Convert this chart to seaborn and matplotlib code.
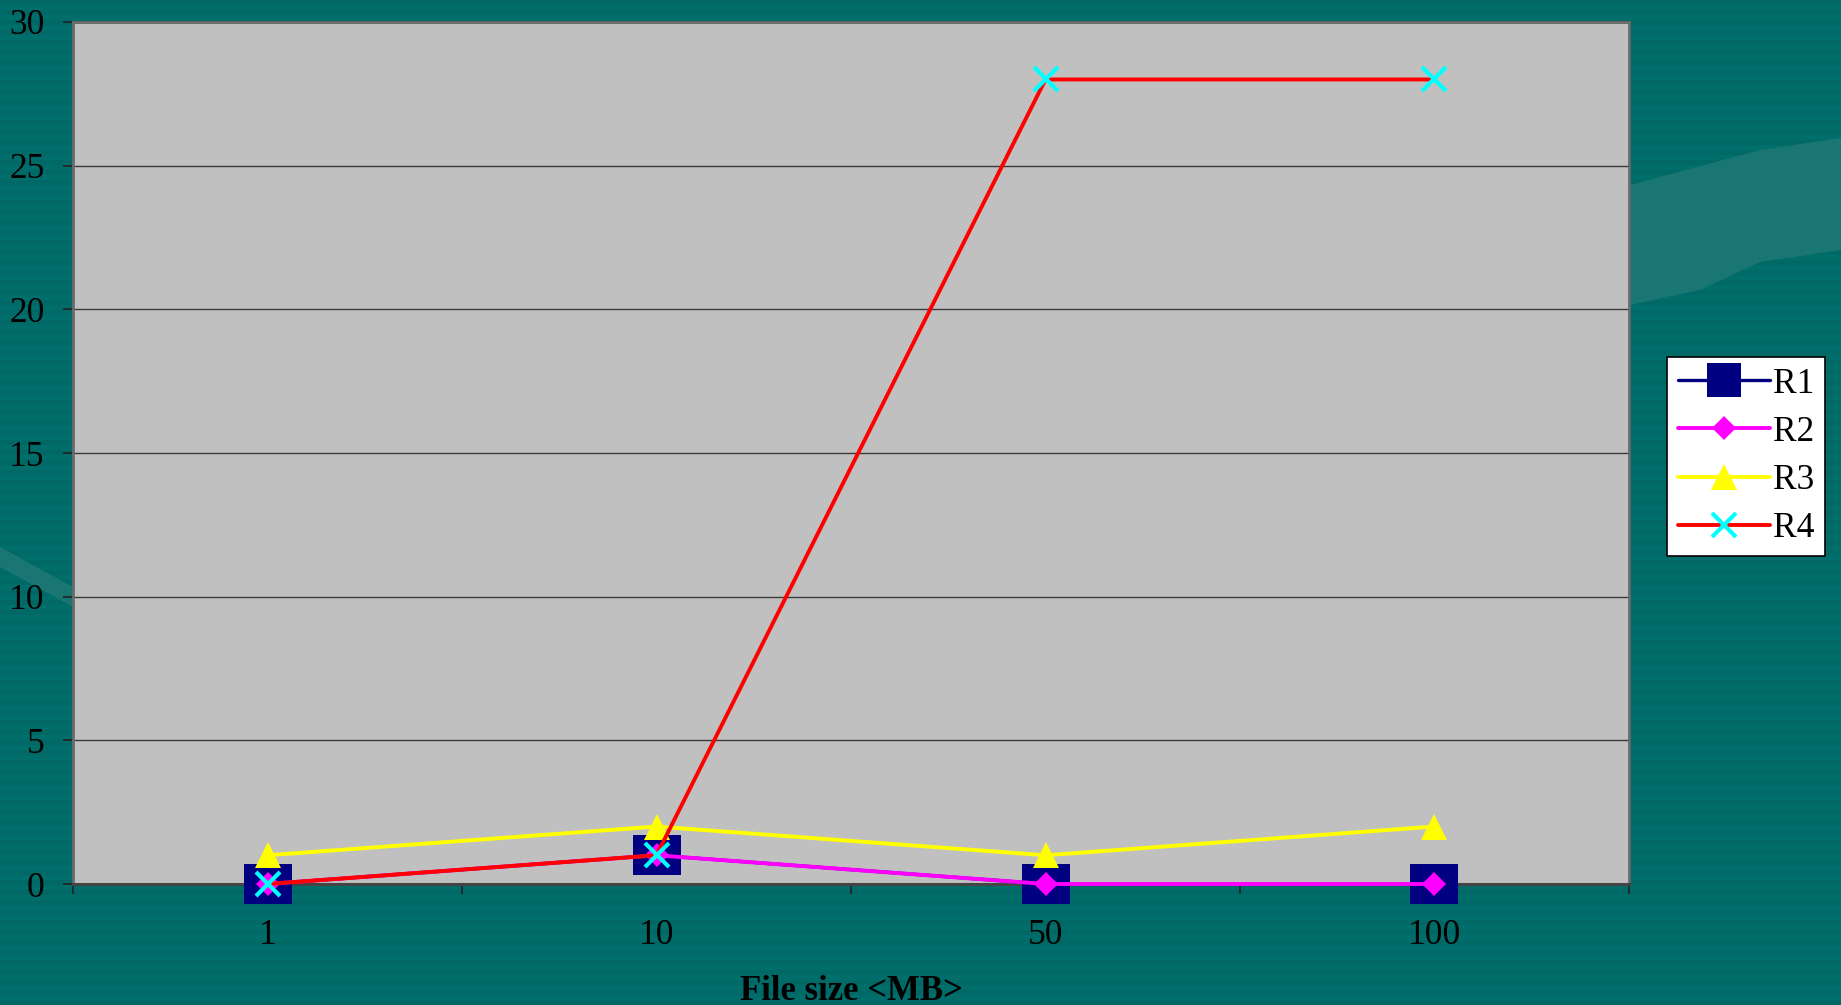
import numpy as np
import pandas as pd
import matplotlib
matplotlib.use("Agg")
import matplotlib.pyplot as plt
from matplotlib.path import Path
from matplotlib.patches import Polygon
import seaborn as sns

# Transfer results per file size
file_sizes = ["1", "10", "50", "100"]
r1 = [0, 1, 0, 0]
r2 = [0, 1, 0, 0]
r3 = [1, 2, 1, 2]
r4 = [0, 1, 28, 28]
series_names = ["R1", "R2", "R3", "R4"]
y_ticks = [0, 5, 10, 15, 20, 25, 30]

df = pd.concat(
    [pd.DataFrame({"size": file_sizes, "value": vals, "series": name})
     for name, vals in zip(series_names, [r1, r2, r3, r4])],
    ignore_index=True,
)

sns.set_style("white")
plt.rcParams["font.family"] = ["Liberation Serif", "DejaVu Serif"]

W, H = 1841, 1005
fig = plt.figure(figsize=(W / 100, H / 100), dpi=100)
teal = "#006A67"
fig.patch.set_facecolor(teal)

# Striped slide background with a few lighter swooshes
bg = fig.add_axes([0, 0, 1, 1], zorder=-10)
rows = np.arange(H)
stripe = np.where((rows // 5) % 2 == 0, 0.0, 1.0)
img = np.zeros((H, 1, 3))
c0 = np.array([0, 104, 101]) / 255
c1 = np.array([0, 110, 107]) / 255
img[:, 0, :] = c0[None, :] * (1 - stripe[:, None]) + c1[None, :] * stripe[:, None]
bg.imshow(img, aspect="auto", extent=(0, W, H, 0), interpolation="nearest")
bg.add_patch(Polygon([(1630, 185), (1760, 150), (1841, 138), (1841, 250),
                      (1760, 262), (1700, 290), (1630, 305)],
                     closed=True, facecolor="#1A7672", edgecolor="none"))
bg.add_patch(Polygon([(0, 547), (73, 587), (73, 607), (0, 567)],
                     closed=True, facecolor="#1A7672", edgecolor="none"))
bg.set_xlim(0, W)
bg.set_ylim(H, 0)
bg.axis("off")

ax = fig.add_axes([73 / W, 1 - 884 / H, (1629 - 73) / W, (884 - 22) / H])
ax.set_facecolor("#C0C0C0")

# Slightly wide box marker used for R1
rect = Path([(-1.23, -1), (1.23, -1), (1.23, 1), (-1.23, 1), (-1.23, -1)],
            [Path.MOVETO, Path.LINETO, Path.LINETO, Path.LINETO, Path.CLOSEPOLY])

styles = {
    "R1": dict(color="#000080", marker=rect, markersize=35,
               markerfacecolor="#000080", markeredgecolor="#000080",
               markeredgewidth=0, linewidth=2.4),
    "R2": dict(color="#FF00FF", marker="D", markersize=12.5,
               markerfacecolor="#FF00FF", markeredgecolor="#FF00FF",
               markeredgewidth=0, linewidth=2.8),
    "R3": dict(color="#FFFF00", marker="^", markersize=19,
               markerfacecolor="#FFFF00", markeredgecolor="#FFFF00",
               markeredgewidth=0, linewidth=2.8),
    "R4": dict(color="#FF0000", marker="x", markersize=17,
               markerfacecolor="#00FFFF", markeredgecolor="#00FFFF",
               markeredgewidth=3, linewidth=2.8),
}

for i, name in enumerate(series_names):
    sub = df[df["series"] == name]
    sns.lineplot(data=sub, x="size", y="value", ax=ax, sort=False,
                 errorbar=None, label=name, clip_on=False, zorder=3 + i,
                 **styles[name])

ax.set_xlim(-0.5, len(file_sizes) - 0.5)
ax.set_ylim(y_ticks[0], y_ticks[-1])
ax.set_yticks(y_ticks)
ax.set_yticklabels([str(t) for t in y_ticks])
ax.set_xticks(range(len(file_sizes)))
ax.set_xticklabels(file_sizes)
ax.set_xticks(np.arange(-0.5, len(file_sizes), 1.0), minor=True)

ax.grid(axis="y", color="#3A3A3A", linewidth=1.0)
ax.grid(axis="x", visible=False)
ax.set_axisbelow(True)

ax.tick_params(axis="y", which="major", direction="out", length=7.5,
               width=1.2, color="#222222", pad=13, labelsize=25.5,
               labelcolor="black", left=True)
ax.tick_params(axis="x", which="major", length=0, pad=25, labelsize=25.5,
               labelcolor="black")
ax.tick_params(axis="x", which="minor", direction="out", length=7.5,
               width=1.2, color="#222222", bottom=True)

for side in ["left", "right", "top"]:
    ax.spines[side].set_color("#6A6A6A")
    ax.spines[side].set_linewidth(2)
ax.spines["bottom"].set_color("#444444")
ax.spines["bottom"].set_linewidth(2.2)

ax.set_ylabel("")
ax.set_xlabel("File size <MB>", fontsize=25, fontweight="bold",
              color="black", labelpad=17)

handles, labels = ax.get_legend_handles_labels()
if ax.get_legend():
    ax.get_legend().remove()
leg = fig.legend(handles, labels, loc="upper left",
                 bbox_to_anchor=(1667 / W, 1 - 357 / H),
                 bbox_transform=fig.transFigure, borderaxespad=0,
                 fontsize=25.5, frameon=True, fancybox=False, shadow=False,
                 handlelength=2.6, handletextpad=0.1, labelspacing=0.43,
                 borderpad=0.3)
leg.get_frame().set_facecolor("white")
leg.get_frame().set_edgecolor("black")
leg.get_frame().set_linewidth(1.2)
leg.get_frame().set_alpha(1)
leg.legend_handles[0].set_marker("s")
leg.legend_handles[0].set_markersize(24)
for t in leg.get_texts():
    t.set_color("black")

fig.savefig("out.png", dpi=100, facecolor=teal)
